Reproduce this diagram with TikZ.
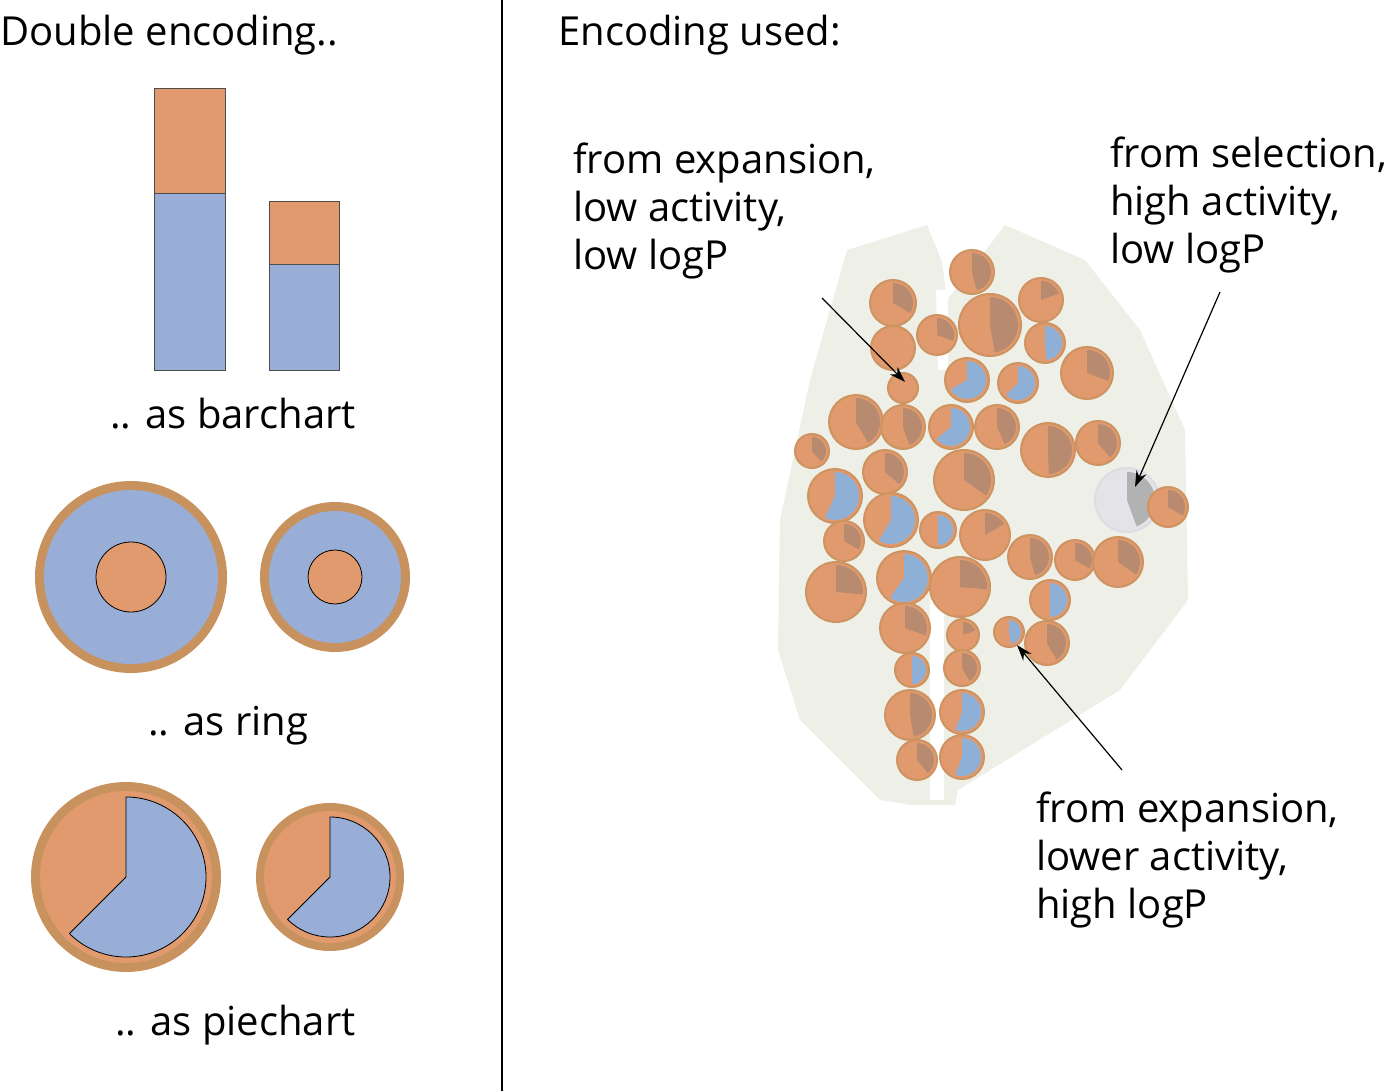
\documentclass[tikz,border=0pt]{standalone}
\usepackage{fontspec}
\setmainfont{Open Sans}
\definecolor{orng}{HTML}{E09A6E}
\definecolor{blu}{HTML}{99AED6}
\definecolor{tan}{HTML}{C8925E}
\definecolor{brwn}{HTML}{B88A70}
\definecolor{cblu}{HTML}{8FB0D6}
\definecolor{blob}{HTML}{EEF0E8}
\tikzset{lbl/.style={anchor=base west,align=left,inner sep=0pt,font=\fontsize{30pt}{36pt}\selectfont},
 arr/.style={-{Stealth[length=12pt,width=8pt]},line width=0.9pt}}
\usetikzlibrary{arrows.meta}
\newcommand{\pc}[5]{% x y r color sweep
 \fill[orng,draw=tan!80!orng,line width=1.5pt] (#1,#2) circle[radius=#3];
 \fill[#4] (#1,#2) -- ++(270:#3-3) arc[start angle=270,end angle=270+#5,radius=#3-3] -- cycle;}
\begin{document}
\begin{tikzpicture}[x=0.75pt,y=-0.75pt]
\useasboundingbox (0,0) rectangle (1386,1091);
\draw[line width=1.5pt] (502,0) -- (502,1091);
\node[lbl] (t1) at (0,46) {Double encoding..};
\node[lbl] (t2) at (558,46) {Encoding used:};
% barchart
\filldraw[fill=orng,draw=black!70,line width=0.6pt] (154,88) rectangle (225,193);
\filldraw[fill=blu,draw=black!70,line width=0.6pt] (154,193) rectangle (225,370);
\filldraw[fill=orng,draw=black!70,line width=0.6pt] (269,201) rectangle (339,264);
\filldraw[fill=blu,draw=black!70,line width=0.6pt] (269,264) rectangle (339,370);
\node[lbl] (t3) at (110,428) {.. as barchart};
% rings
\fill[tan] (131,577) circle[radius=96];
\fill[blu] (131,577) circle[radius=87];
\filldraw[fill=orng,draw=black,line width=0.6pt] (131,577) circle[radius=35];
\fill[tan] (335,577) circle[radius=75];
\fill[blu] (335,577) circle[radius=66];
\filldraw[fill=orng,draw=black,line width=0.6pt] (335,577) circle[radius=27];
\node[lbl] (t4) at (148,735) {.. as ring};
% pies
\fill[tan] (126,877) circle[radius=95];
\fill[orng] (126,877) circle[radius=86];
\filldraw[fill=blu,draw=black,line width=0.6pt] (126,877) -- ++(270:80) arc[start angle=270,end angle=495,radius=80] -- cycle;
\fill[tan] (330,877) circle[radius=74];
\fill[orng] (330,877) circle[radius=66];
\filldraw[fill=blu,draw=black,line width=0.6pt] (330,877) -- ++(270:60) arc[start angle=270,end angle=495,radius=60] -- cycle;
\node[lbl] (t5) at (115,1035) {.. as piechart};
% blob
\fill[blob] (847,250) -- (927,225) -- (942,262) -- (947,300) -- (955,290) -- (1005,225) -- (1085,260) -- (1140,330) -- (1185,430) -- (1188,600) -- (1120,690) -- (958,790) -- (955,805) -- (912,805) -- (880,800) -- (800,720) -- (778,650) -- (780,520) -- (810,380) -- cycle;
\fill[white] (936,290) -- (948,290) -- (948,370) -- (938,370) -- cycle;
\fill[white] (930,600) -- (944,600) -- (944,800) -- (930,800) -- cycle;
% cluster
\pc{972}{272}{22}{brwn}{165}
\pc{893}{303}{23}{brwn}{120}
\pc{937}{335}{20}{brwn}{110}
\pc{990}{325}{31}{brwn}{170}
\pc{1041}{300}{22}{brwn}{70}
\pc{893}{348}{22}{brwn}{0}
\pc{1045}{343}{20}{cblu}{175}
\pc{1087}{373}{26}{brwn}{110}
\pc{967}{380}{22}{cblu}{240}
\pc{1018}{383}{20}{cblu}{225}
\pc{903}{388}{15}{brwn}{0}
\pc{856}{422}{27}{brwn}{150}
\pc{903}{427}{22}{brwn}{160}
\pc{951}{427}{22}{cblu}{230}
\pc{997}{427}{22}{brwn}{155}
\pc{1048}{450}{27}{brwn}{178}
\pc{1098}{443}{22}{brwn}{140}
\pc{812}{451}{17}{brwn}{140}
\pc{885}{472}{22}{brwn}{130}
\pc{964}{480}{30}{brwn}{125}
\pc{835}{496}{27}{cblu}{205}
\pc{891}{520}{27}{cblu}{210}
\pc{938}{530}{18}{cblu}{180}
\pc{985}{535}{25}{brwn}{60}
\fill[blue!10!gray!20,draw=blue!10!gray!25,line width=1.5pt] (1127,500) circle[radius=32];
\fill[gray!60] (1127,500) -- ++(270:28) arc[start angle=270,end angle=430,radius=28] -- cycle;
\pc{1168}{507}{20}{brwn}{120}
\pc{844}{541}{20}{brwn}{120}
\pc{1030}{557}{22}{brwn}{165}
\pc{1075}{560}{20}{brwn}{120}
\pc{1118}{562}{25}{brwn}{125}
\pc{836}{592}{30}{brwn}{95}
\pc{904}{578}{27}{cblu}{215}
\pc{960}{587}{30}{brwn}{95}
\pc{1050}{600}{20}{cblu}{180}
\pc{905}{628}{25}{brwn}{110}
\pc{963}{635}{16}{brwn}{70}
\pc{1009}{632}{15}{cblu}{170}
\pc{1047}{643}{22}{brwn}{150}
\pc{912}{670}{17}{cblu}{180}
\pc{962}{668}{18}{brwn}{150}
\pc{910}{715}{25}{brwn}{170}
\pc{962}{712}{22}{cblu}{200}
\pc{917}{760}{20}{brwn}{140}
\pc{962}{757}{22}{cblu}{200}
% labels
\node[lbl] (l1) at (573,270) {from expansion,\\low activity,\\low logP};
\node[lbl] (l2) at (1110,264) {from selection,\\high activity,\\low logP};
\node[lbl] (l3) at (1036,918) {from expansion,\\lower activity,\\high logP};
\coordinate (a1s) at (822,298); \coordinate (a1e) at (905,382);
\coordinate (a2s) at (1220,292); \coordinate (a2e) at (1135,487);
\coordinate (a3s) at (1122,770); \coordinate (a3e) at (1017,645);
\draw[arr] (a1s) -- (a1e);
\draw[arr] (a2s) -- (a2e);
\draw[arr] (a3s) -- (a3e);
\end{tikzpicture}
\end{document}
